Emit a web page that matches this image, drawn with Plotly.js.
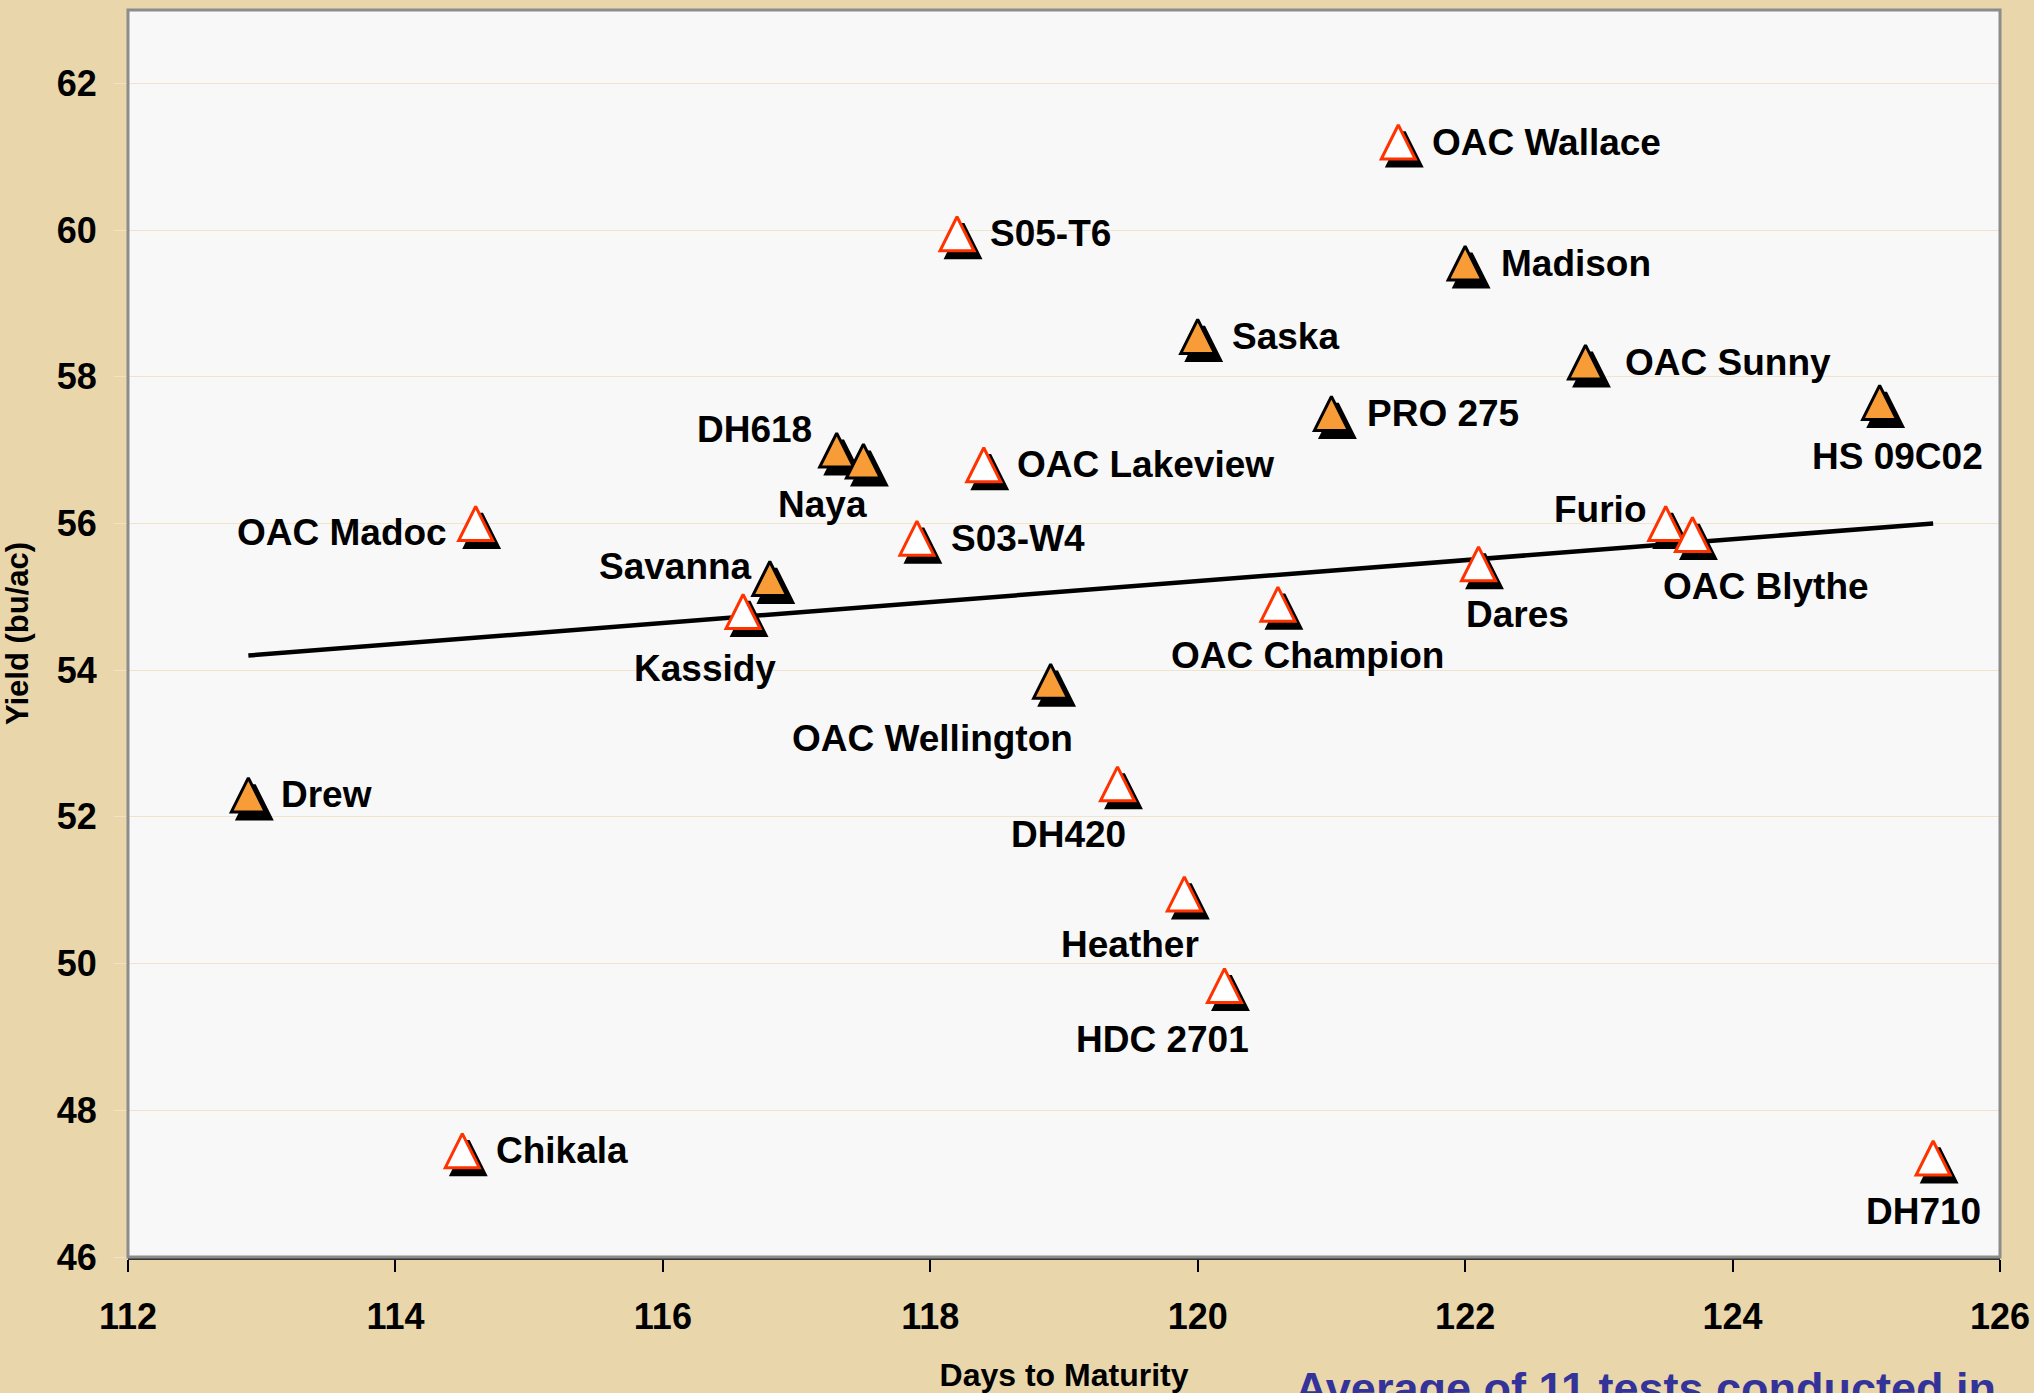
<!DOCTYPE html>
<html>
<head>
<meta charset="utf-8">
<script src="https://cdn.plot.ly/plotly-3.0.1.min.js"></script>
<style>html,body{margin:0;padding:0;background:#E9D6AB;} #chart{width:2034px;height:1393px;}</style>
</head>
<body>
<div id="chart"></div>
<script>
// ---------------- data ----------------
// Orange-filled triangles
const orangeNames = ['Madison', 'Saska', 'OAC Sunny', 'PRO 275', 'HS 09C02', 'DH618', 'Naya', 'Savanna', 'OAC Wellington', 'Drew'];
const orangeDays  = [122.0, 120.0, 122.9, 121.0, 125.1, 117.3, 117.5, 116.8, 118.9, 112.9];
const orangeYield = [59.55, 58.55, 58.2, 57.5, 57.65, 57.0, 56.85, 55.25, 53.85, 52.3];

// White triangles with red outline
const whiteNames = ['OAC Wallace', 'S05-T6', 'OAC Lakeview', 'OAC Madoc', 'S03-W4', 'Kassidy', 'OAC Champion', 'Dares', 'Furio', 'OAC Blythe', 'DH420', 'Heather', 'HDC 2701', 'Chikala', 'DH710'];
const whiteDays  = [121.5, 118.2, 118.4, 114.6, 117.9, 116.6, 120.6, 122.1, 123.5, 123.7, 119.4, 119.9, 120.2, 114.5, 125.5];
const whiteYield = [61.2, 59.95, 56.8, 56.0, 55.8, 54.8, 54.9, 55.45, 56.0, 55.85, 52.45, 50.95, 49.7, 47.45, 47.35];

// Trend line end points
const trendDays  = [112.9, 125.5];
const trendYield = [54.2, 56.0];

// Axis ticks
const xTicks = [112, 114, 116, 118, 120, 122, 124, 126];
const yTicks = [46, 48, 50, 52, 54, 56, 58, 60, 62];

const noteText = 'Average of 11 tests conducted in';

// ---------------- label placement (style, pixels) ----------------
const labelPlacement = {
  'OAC Wallace': ['left', 32, 0], 'S05-T6': ['left', 31, 0], 'Madison': ['left', 34, 0],
  'Saska': ['left', 32, 0], 'OAC Sunny': ['left', 38, 0], 'PRO 275': ['left', 34, 0],
  'HS 09C02': ['center', 18, 54], 'DH618': ['right', -23, -21], 'Naya': ['center', -41, 43],
  'OAC Lakeview': ['left', 31, 0], 'OAC Madoc': ['right', -27, 9], 'S03-W4': ['left', 32, 0],
  'Savanna': ['right', -16, -12], 'Kassidy': ['center', -38, 57], 'OAC Wellington': ['center', -118, 57],
  'OAC Champion': ['center', 30, 51], 'Dares': ['center', 39, 51], 'Furio': ['right', -18, -14],
  'OAC Blythe': ['center', 74, 52], 'Drew': ['left', 31, 0], 'DH420': ['center', -49, 51],
  'Heather': ['center', -54, 51], 'HDC 2701': ['center', -62, 54], 'Chikala': ['left', 32, 0],
  'DH710': ['center', -10, 54]
};

// ---------------- geometry / style ----------------
const W = 2034, H = 1393;
const M = {l: 128, r: 34, t: 10, b: 136};
const plotW = W - M.l - M.r, plotH = H - M.t - M.b;
const xR = [112, 126], yR = [46, 63];
const pxX = plotW / (xR[1] - xR[0]);
const pxY = plotH / (yR[1] - yR[0]);
const MS = 34;                      // marker size (arrow-up: apex at point, base below)
const centerShift = (MS / 2) / pxY; // move so triangle is centred on the value
const shOffX = 6 / pxX, shOffY = 7 / pxY; // drop shadow offset
const font = 'Liberation Sans, Arial, sans-serif';

const traces = [
  {x: trendDays, y: trendYield, mode: 'lines', line: {color: '#000', width: 4.5}, xaxis: 'x', yaxis: 'y', hoverinfo: 'skip'},
  // drop shadows
  {x: orangeDays.concat(whiteDays), y: orangeYield.concat(whiteYield), mode: 'markers', xaxis: 'x2', yaxis: 'y2',
   marker: {symbol: 'arrow-up', size: MS, color: '#000', line: {color: '#000', width: 3}}, hoverinfo: 'skip'},
  // markers
  {x: orangeDays, y: orangeYield, text: orangeNames, mode: 'markers', xaxis: 'x3', yaxis: 'y3',
   marker: {symbol: 'arrow-up', size: MS, color: '#F89C38', line: {color: '#000', width: 3}}},
  {x: whiteDays, y: whiteYield, text: whiteNames, mode: 'markers', xaxis: 'x3', yaxis: 'y3',
   marker: {symbol: 'arrow-up', size: MS, color: '#FFFFFF', line: {color: '#FF3300', width: 3}}}
];

const annotations = [];
function addLabels(names, xs, ys) {
  names.forEach((n, i) => {
    const p = labelPlacement[n];
    annotations.push({
      x: xs[i], y: ys[i], xref: 'x', yref: 'y', text: '<b>' + n + '</b>', showarrow: false,
      xanchor: p[0], yanchor: 'middle', xshift: p[1], yshift: -p[2],
      font: {family: font, size: 37, color: '#000'}
    });
  });
}
addLabels(orangeNames, orangeDays, orangeYield);
addLabels(whiteNames, whiteDays, whiteYield);
annotations.push({
  xref: 'paper', yref: 'paper', x: (1293 - M.l) / plotW, y: (plotH + M.t - 1361) / plotH,
  xanchor: 'left', yanchor: 'top', showarrow: false, text: '<b>' + noteText + '</b>',
  font: {family: font, size: 45, color: '#333399'}
});

const layout = {
  width: W, height: H, margin: M,
  paper_bgcolor: '#E9D6AB', plot_bgcolor: '#F8F8F8',
  showlegend: false, hovermode: false,
  font: {family: font, color: '#000'},
  xaxis: {range: xR, tickvals: xTicks, ticks: 'outside', ticklen: 12, tickwidth: 2, tickcolor: '#000',
          showgrid: false, zeroline: false, showline: true, linecolor: '#333', linewidth: 3,
          tickfont: {size: 36, weight: 'bold', family: font}, ticklabelstandoff: 14,
          title: {text: 'Days to Maturity', font: {size: 32, weight: 'bold', family: font}, standoff: 30}},
  yaxis: {range: yR, tickvals: yTicks, ticks: 'outside', ticklen: 13, tickwidth: 1, tickcolor: '#EFE3C4',
          showgrid: true, gridcolor: '#F0E5CB', gridwidth: 1, zeroline: false, showline: false,
          tickfont: {size: 36, weight: 'bold', family: font}, ticklabelstandoff: 10,
          title: {text: 'Yield (bu/ac)', font: {size: 31, weight: 'bold', family: font}, standoff: 24}},
  xaxis2: {overlaying: 'x', range: [xR[0] - shOffX, xR[1] - shOffX], visible: false},
  yaxis2: {overlaying: 'y', range: [yR[0] - (centerShift - shOffY), yR[1] - (centerShift - shOffY)], visible: false},
  xaxis3: {overlaying: 'x', range: xR, visible: false},
  yaxis3: {overlaying: 'y', range: [yR[0] - centerShift, yR[1] - centerShift], visible: false},
  shapes: [{type: 'rect', xref: 'paper', yref: 'paper', x0: 0, x1: 1, y0: 0, y1: 1,
            line: {color: '#8C8C8C', width: 3}, layer: 'above'}],
  annotations: annotations
};

Plotly.newPlot('chart', traces, layout, {staticPlot: true, displayModeBar: false});
</script>
</body>
</html>
